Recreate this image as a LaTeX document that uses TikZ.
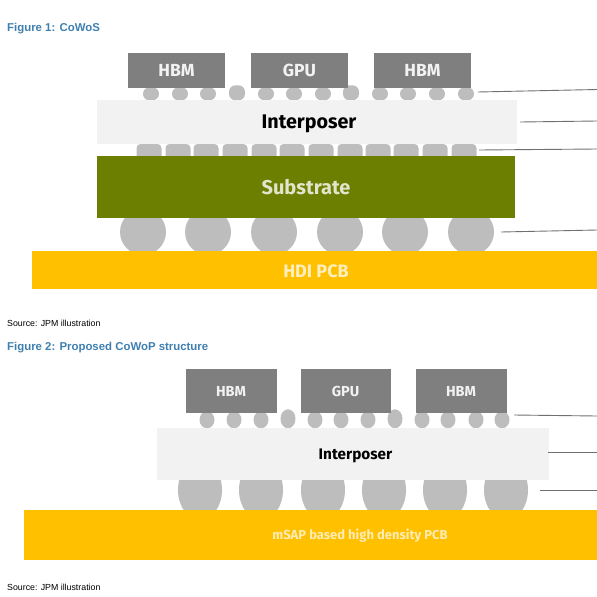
\documentclass[tikz,border=0pt]{standalone}
\usepackage{fontspec}
\setmainfont{Fira Sans}
\newfontfamily\captionfont{Liberation Sans}
\usetikzlibrary{positioning,shapes.geometric}
\definecolor{chipgray}{HTML}{7F7F7F}
\definecolor{bumpgray}{HTML}{BDBDBD}
\definecolor{interlight}{HTML}{F2F2F2}
\definecolor{subgreen}{HTML}{6C7F00}
\definecolor{pcbyellow}{HTML}{FFC000}
\definecolor{figblue}{HTML}{3E7FB0}
\definecolor{leadgray}{HTML}{707070}

\begin{document}
\begin{tikzpicture}[
   x=1pt,y=-1pt,
   node distance=26pt and 26pt,
   layer/.style={inner sep=0pt,outer sep=0pt,align=center},
   chip/.style={layer,fill=chipgray,text=interlight,text height=12pt,text depth=0pt,
                minimum height=35pt,minimum width=97pt,
                font=\fontsize{17.5}{17.5}\selectfont\bfseries},
   chipb/.style={chip,minimum height=44pt,minimum width=91pt,text height=10pt,
                font=\fontsize{14.5}{14.5}\selectfont\bfseries},
   microbump/.style={inner sep=0pt,fill=bumpgray,rounded corners=6.5pt,minimum width=16pt,minimum height=13pt},
   flatbump/.style={inner sep=0pt,fill=bumpgray,rounded corners=4pt,minimum width=25pt,minimum height=16pt},
   roundbump/.style={ellipse,inner sep=0pt,fill=bumpgray,minimum width=15pt,minimum height=17pt},
   ball/.style={circle,inner sep=0pt,fill=bumpgray,minimum size=46pt},
   barrel/.style={ellipse,inner sep=0pt,fill=bumpgray,minimum width=44pt,minimum height=60pt},
   lead/.style={leadgray,line width=0.9pt},
   figlabel/.style={inner sep=0pt,anchor=west,text=figblue,font=\captionfont\fontsize{11.4}{11.4}\selectfont\bfseries},
   srclabel/.style={inner sep=0pt,anchor=west,font=\captionfont\fontsize{8.8}{9}\selectfont}]
  \useasboundingbox (0,0) rectangle (597,597);

  % first figure
  \node[figlabel] (figA) at (7,29) {Figure 1: CoWoS};
  \foreach \n/\x in {1/143,2/208,3/274,4/340,5/405,6/471}
    \node[ball] (ballA\n) at (\x,232) {};
  \node[layer,fill=pcbyellow,minimum width=565pt,minimum height=38pt] (pcbA) at (314.5,270) {};
  \node[layer,text=white!75!pcbyellow,font=\fontsize{18}{18}\selectfont\bfseries] (pcbAtext) at (316,271) {HDI PCB};
  \foreach \n/\x/\h in {1/151/13,2/180/13,3/208/13,4/237/15,5/266/13,6/294/13,7/323/13,8/351/15,9/380/13,10/408/13,11/437/13,12/466/13}
    \node[microbump,minimum height=\h pt,anchor=south] (bumpA\n) at (\x,100.5) {};
  \node[chip] (hbmA) at (176.5,70.5) {HBM};
  \node[chip,right=of hbmA] (gpuA) {GPU};
  \node[chip,right=of gpuA] (hbmB) {HBM};
  \node[layer,fill=interlight,minimum width=420pt,minimum height=44pt,text depth=0pt,
        font=\fontsize{19.7}{19.7}\selectfont\bfseries] (interA) at (307,122) {\hspace*{4pt}Interposer};
  \foreach \n/\x in {1/149,2/178,3/206,4/235,5/264,6/292,7/321,8/350,9/378,10/406,11/435,12/464}
    \node[flatbump] (flatA\n) at (\x,152) {};
  \node[layer,fill=subgreen,text=white!80!subgreen,minimum width=418pt,minimum height=62pt,
        font=\fontsize{20}{20}\selectfont\bfseries] (subA) at (306,187) {Substrate};

  \coordinate (leadA) at (478,92);   \coordinate (endA) at (597,89.5);
  \coordinate (leadB) at (520,122);  \coordinate (endB) at (597,121);
  \coordinate (leadC) at (479,150);  \coordinate (endC) at (597,149);
  \coordinate (leadD) at (501,232);  \coordinate (endD) at (597,230);
  \draw[lead] (leadA)--(endA); \draw[lead] (leadB)--(endB);
  \draw[lead] (leadC)--(endC); \draw[lead] (leadD)--(endD);
  \node[srclabel] (srcA) at (7,323) {Source: JPM illustration};

  % second figure
  \node[figlabel] (figB) at (7,347.5) {Figure 2: Proposed CoWoP structure};
  \foreach \n/\x in {1/200,2/261,3/323,4/384,5/445,6/506}
    \node[barrel] (ballB\n) at (\x,490) {};
  \node[layer,fill=pcbyellow,minimum width=573pt,minimum height=50pt] (pcbB) at (310.5,535) {};
  \node[layer,text=white!70!pcbyellow,font=\fontsize{13}{13}\selectfont\bfseries] (pcbBtext) at (360,535.5) {mSAP based high density PCB};
  \foreach \n/\x/\h in {1/207/17,2/234/17,3/261/17,4/288/19,5/315/17,6/341/17,7/368/17,8/395/19,9/422/17,10/448/17,11/476/17,12/502/17}
    \node[roundbump,minimum height=\h pt,anchor=south] (bumpB\n) at (\x,428.5) {};
  \node[chipb] (hbmC) at (231,391) {HBM};
  \node[chipb,minimum width=90pt,right=24pt of hbmC] (gpuB) {GPU};
  \node[chipb,right=25pt of gpuB] (hbmD) {HBM};
  \node[layer,fill=interlight,minimum width=392pt,minimum height=52pt,text depth=0pt,
        font=\fontsize{15.3}{15.3}\selectfont\bfseries] (interB) at (353,454) {\hspace*{5pt}Interposer};

  \coordinate (leadE) at (514,415);  \coordinate (endE) at (597,416);
  \coordinate (leadF) at (548,452);  \coordinate (endF) at (597,452);
  \coordinate (leadG) at (540,490);  \coordinate (endG) at (597,490);
  \draw[lead] (leadE)--(endE); \draw[lead] (leadF)--(endF); \draw[lead] (leadG)--(endG);
  \node[srclabel] (srcB) at (7,587) {Source: JPM illustration};
\end{tikzpicture}
\end{document}
